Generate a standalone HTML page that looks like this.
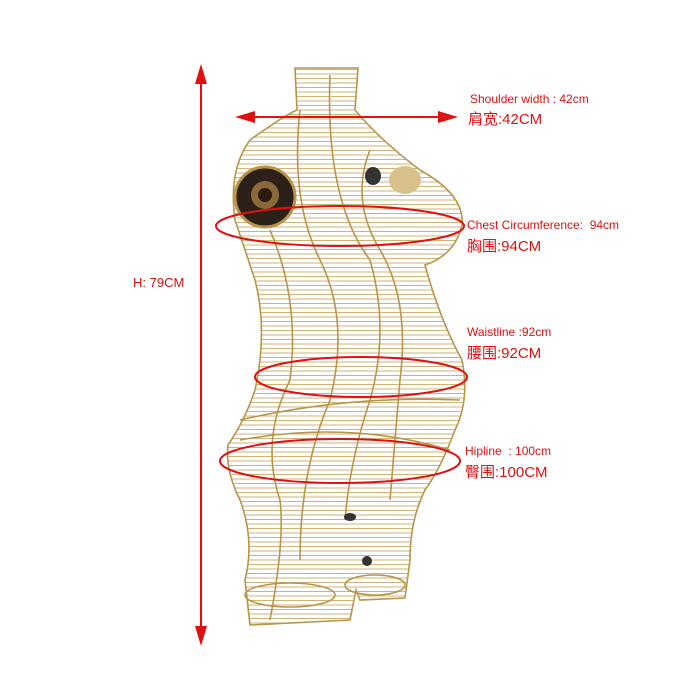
<!DOCTYPE html>
<html><head><meta charset="utf-8"><style>
body{margin:0;width:700px;height:700px;background:#fff;overflow:hidden;font-family:"Liberation Sans","Noto Sans CJK SC",sans-serif}
.t{position:absolute;color:#e01010;white-space:nowrap}
.s{font-size:12px}.c{font-size:15px}
</style></head><body>
<svg width="700" height="700" style="position:absolute;left:0;top:0">
<defs>
<clipPath id="b"><path d="M295,68 L358,68 L355,110 Q380,140 420,170 Q465,195 462,225 Q455,255 425,265 Q440,320 462,360 Q470,400 455,430 Q440,470 425,490 Q410,520 410,560 L405,598 L360,600 L356,590 L350,620 L250,625 L245,580 Q255,540 240,500 Q225,470 228,445 Q245,420 255,390 Q268,330 255,280 Q245,250 235,220 Q228,170 250,140 Q285,115 297,110 Z"/></clipPath>
<pattern id="h" width="10" height="4.5" patternUnits="userSpaceOnUse"><line x1="0" y1="2" x2="10" y2="2" stroke="#c9ab6a" stroke-width="1"/></pattern>
</defs>
<rect x="0" y="0" width="700" height="700" fill="url(#h)" clip-path="url(#b)" opacity="0.9"/>
<g fill="none" stroke="#b8954a" stroke-width="1.6">
<path d="M295,68 L358,68 L355,110 Q380,140 420,170 Q465,195 462,225 Q455,255 425,265 Q440,320 462,360 Q470,400 455,430 Q440,470 425,490 Q410,520 410,560 L405,598 L360,600 L356,590 L350,620 L250,625 L245,580 Q255,540 240,500 Q225,470 228,445 Q245,420 255,390 Q268,330 255,280 Q245,250 235,220 Q228,170 250,140 Q285,115 297,110 Z"/>
<path d="M300,110 Q290,200 320,260 Q350,320 330,400 Q300,470 300,560"/>
<path d="M330,75 Q325,200 370,260 Q390,330 370,400 Q350,460 345,520"/>
<path d="M370,150 Q350,200 380,250 Q410,300 400,380 Q395,440 390,500"/>
<path d="M270,230 Q300,300 290,380 Q260,440 280,500 Q285,540 270,620"/>
<path d="M240,420 Q350,395 460,400"/><path d="M240,440 Q350,420 450,450"/>
<ellipse cx="290" cy="595" rx="45" ry="12"/><ellipse cx="375" cy="585" rx="30" ry="10"/>
</g>
<ellipse cx="265" cy="197" rx="30" ry="30" fill="#2b2118" stroke="#b8954a" stroke-width="3"/>
<ellipse cx="265" cy="195" rx="14" ry="14" fill="#8a6a3a"/>
<ellipse cx="265" cy="195" rx="7" ry="7" fill="#2b1a10"/>
<ellipse cx="373" cy="176" rx="8" ry="9" fill="#333"/>
<ellipse cx="405" cy="180" rx="16" ry="14" fill="#d8c08a"/>
<ellipse cx="350" cy="517" rx="6" ry="4" fill="#333"/><ellipse cx="367" cy="561" rx="5" ry="5" fill="#333"/>
<g stroke="#e01010" stroke-width="2" fill="none">
<ellipse cx="340" cy="226" rx="124" ry="20"/>
<ellipse cx="361" cy="377" rx="106" ry="20"/>
<ellipse cx="340" cy="461" rx="120" ry="22"/>
<line x1="201" y1="80" x2="201" y2="630"/>
<line x1="248" y1="117" x2="446" y2="117"/>
</g>
<g fill="#e01010">
<polygon points="201,64 195,84 207,84"/><polygon points="201,646 195,626 207,626"/>
<polygon points="235,117 255,111 255,123"/><polygon points="458,117 438,111 438,123"/>
</g>
</svg>
<div class="t s" style="left:133px;top:275px;font-size:13px">H: 79CM</div>
<div class="t s" style="left:470px;top:92px">Shoulder width : 42cm</div>
<div class="t c" style="left:468px;top:108px">肩宽:42CM</div>
<div class="t s" style="left:467px;top:218px">Chest Circumference:&nbsp; 94cm</div>
<div class="t c" style="left:467px;top:235px">胸围:94CM</div>
<div class="t s" style="left:467px;top:325px">Waistline :92cm</div>
<div class="t c" style="left:467px;top:342px">腰围:92CM</div>
<div class="t s" style="left:465px;top:444px">Hipline &nbsp;: 100cm</div>
<div class="t c" style="left:465px;top:461px">臀围:100CM</div>
</body></html>
